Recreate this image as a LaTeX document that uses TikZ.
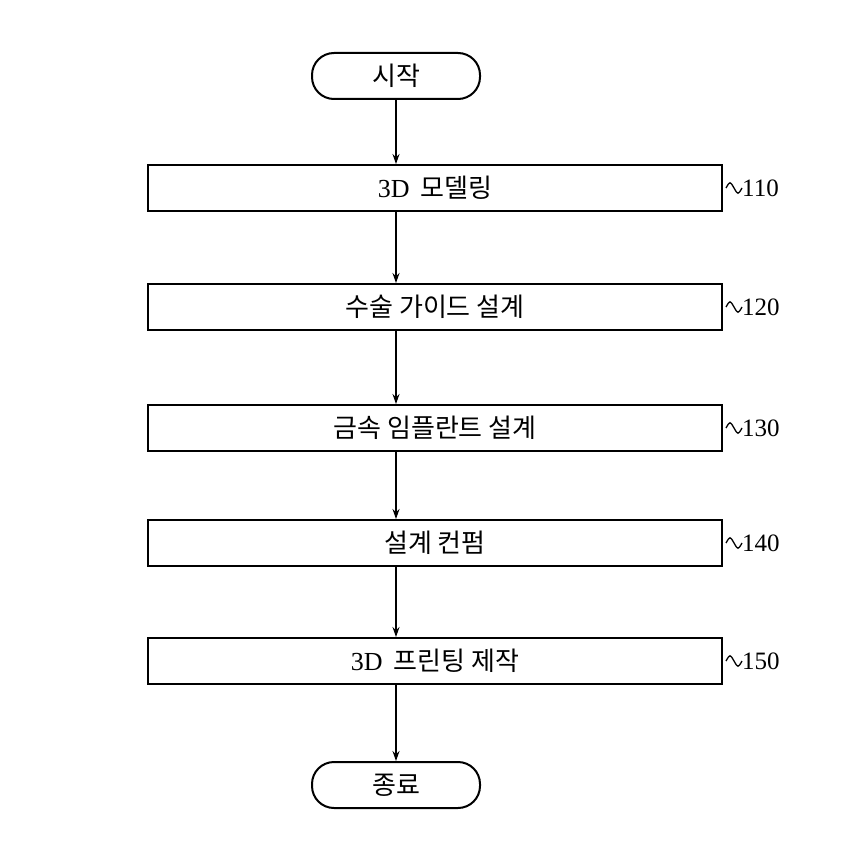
\documentclass[tikz,border=0pt]{standalone}
\usepackage{fontspec}
\newfontfamily\cjk{Noto Sans CJK KR}
\setmainfont{Liberation Serif}
\usetikzlibrary{arrows.meta}
\begin{document}
\begin{tikzpicture}[x=1pt,y=-1pt,
  box/.style={draw,line width=2pt,minimum width=574pt,minimum height=46pt,font=\fontsize{26}{28}\selectfont},
  term/.style={draw,line width=2pt,rounded corners=22pt,minimum width=168pt,minimum height=46pt,font=\fontsize{26}{28}\selectfont},
  arr/.style={-{Stealth[length=10pt,width=7pt]},line width=1.2pt},
  lab/.style={font=\fontsize{25}{27}\selectfont,anchor=west,inner sep=0pt}]
\useasboundingbox (0,0) rectangle (845,853);
\node[term] (s) at (396,76) {\cjk 시작};
\node[box] (b1) at (435,188) {3D\, {\cjk 모델링}};
\node[box] (b2) at (435,307) {\cjk 수술 가이드 설계};
\node[box] (b3) at (435,428) {\cjk 금속 임플란트 설계};
\node[box] (b4) at (435,543) {\cjk 설계 컨펌};
\node[box] (b5) at (435,661) {3D\, {\cjk 프린팅 제작}};
\node[term] (e) at (396,785) {\cjk 종료};
\foreach \a/\b in {s/b1,b1/b2,b2/b3,b3/b4,b4/b5,b5/e}
  \draw[arr] (\a.south -| s) -- (\b.north -| s);
\foreach \n/\t in {b1/110,b2/120,b3/130,b4/140,b5/150}{
  \draw[line width=1.3pt] (\n.east) ++(3,0) coordinate (w\n) .. controls +(4,-7) and +(-4,-7) .. ++(8,0) .. controls +(4,7) and +(-4,7) .. ++(8,0) coordinate (t\n);
  \node[lab] (l\n) at (t\n) {\t};
}
\end{tikzpicture}
\end{document}
